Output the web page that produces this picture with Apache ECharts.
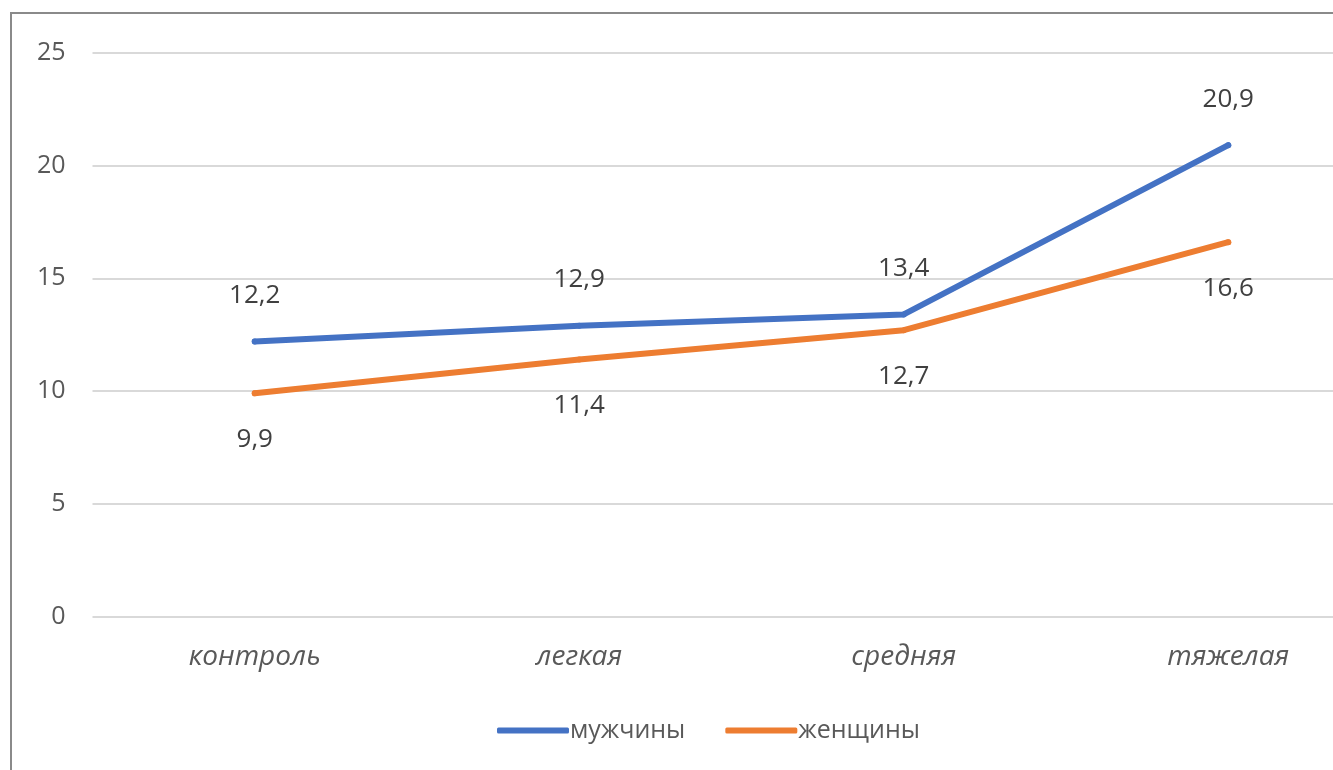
<!DOCTYPE html>
<html><head><meta charset="utf-8">
<script src="https://cdn.jsdelivr.net/npm/echarts@6/dist/echarts.min.js"></script>
<style>
html,body{margin:0;padding:0;background:#fff;overflow:hidden;width:1333px;height:770px;}
#frame{position:absolute;left:10px;top:12px;width:1400px;height:800px;border:2px solid #8a8a8a;box-sizing:border-box;}
#c{position:absolute;left:0;top:0;width:1420px;height:770px;}
</style></head>
<body>
<div id="frame"></div>
<div id="c"></div>
<script>
const categories = ['контроль', 'легкая', 'средняя', 'тяжелая'];
const men = [12.2, 12.9, 13.4, 20.9];
const women = [9.9, 11.4, 12.7, 16.6];
const seriesNames = ['мужчины', 'женщины'];
const yTicks = {min: 0, max: 25, interval: 5};

const FONT = '"Open Sans", "Noto Sans", sans-serif';
const fmt = p => String(p.value).replace('.', ',');

const chart = echarts.init(document.getElementById('c'), null, {renderer: 'canvas'});
chart.setOption({
  animation: false,
  backgroundColor: 'transparent',
  grid: {left: 92.5, top: 52.7, width: 1298, height: 564, containLabel: false},
  legend: {
    left: 492, top: 713,
    icon: 'roundRect', itemWidth: 72, itemHeight: 6, itemGap: 40,
    itemStyle: {opacity: 1},
    textStyle: {fontFamily: FONT, fontSize: 25, color: '#595959', padding: [0,0,0,-4]},
    data: seriesNames
  },
  xAxis: {
    type: 'category', data: categories, boundaryGap: true,
    axisLine: {show: false}, axisTick: {show: false},
    axisLabel: {margin: 26, fontFamily: FONT, fontStyle: 'italic', fontSize: 28, color: '#595959'}
  },
  yAxis: {
    type: 'value', min: yTicks.min, max: yTicks.max, interval: yTicks.interval,
    axisLine: {show: false}, axisTick: {show: false},
    splitLine: {lineStyle: {color: '#d9d9d9', width: 2}},
    axisLabel: {margin: 27, fontFamily: FONT, fontSize: 25, color: '#595959'}
  },
  series: [
    {
      name: seriesNames[0], type: 'line', data: men,
      symbol: 'circle', symbolSize: 6, showSymbol: true,
      lineStyle: {width: 6, color: '#4472C4', cap: 'round', join: 'round'},
      itemStyle: {color: '#4472C4', borderWidth: 0},
      label: {show: true, position: 'top', distance: 30, formatter: fmt,
        fontFamily: FONT, fontSize: 26, color: '#404040'}
    },
    {
      name: seriesNames[1], type: 'line', data: women,
      symbol: 'circle', symbolSize: 6, showSymbol: true,
      lineStyle: {width: 6, color: '#ED7D31', cap: 'round', join: 'round'},
      itemStyle: {color: '#ED7D31', borderWidth: 0},
      label: {show: true, position: 'bottom', distance: 30, formatter: fmt,
        fontFamily: FONT, fontSize: 26, color: '#404040'}
    }
  ]
});
</script>
</body></html>
